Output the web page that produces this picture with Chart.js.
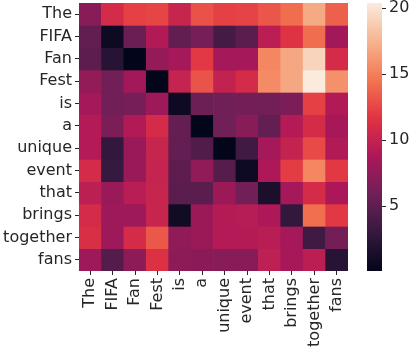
<!DOCTYPE html>
<html>
<head>
<meta charset="utf-8">
<script src="https://cdn.jsdelivr.net/npm/chart.js@4.4.1/dist/chart.umd.min.js"></script>
<style>
  html, body { margin: 0; padding: 0; background: #ffffff; }
  canvas { display: block; }
</style>
</head>
<body>
<canvas id="heat" width="409" height="349"></canvas>
<script>
// Tokens of the sentence (rows = queries, columns = keys)
const tokens = ['The', 'FIFA', 'Fan', 'Fest', 'is', 'a', 'unique', 'event', 'that', 'brings', 'together', 'fans'];

// Attention scores, one row per token
const rowThe      = [7.0, 10.9, 12.3, 12.5, 10.2, 13.0, 12.3, 12.4, 13.2, 14.2, 17.0, 13.7];
const rowFIFA     = [5.2, 0.8, 5.6, 9.0, 5.2, 6.2, 3.8, 4.8, 9.5, 11.6, 14.2, 8.3];
const rowFan      = [5.0, 2.2, 0.1, 7.6, 8.4, 11.9, 8.4, 8.4, 15.4, 16.9, 19.2, 11.0];
const rowFest     = [7.5, 6.0, 8.3, 0.1, 10.1, 13.1, 9.9, 10.9, 15.6, 16.9, 20.4, 15.8];
const rowIs       = [8.4, 6.0, 6.2, 8.1, 0.8, 5.7, 5.9, 6.1, 6.0, 6.5, 12.3, 9.1];
const rowA        = [9.2, 6.4, 9.1, 11.0, 5.3, 0.1, 5.9, 7.0, 5.3, 9.2, 10.9, 8.5];
const rowUnique   = [9.2, 2.8, 7.8, 10.2, 5.3, 4.4, 0.1, 3.6, 8.4, 10.0, 12.7, 9.0];
const rowEvent    = [10.9, 3.0, 7.9, 10.1, 5.0, 7.4, 4.6, 0.8, 8.9, 12.1, 15.4, 11.9];
const rowThat     = [9.6, 7.9, 9.4, 10.2, 4.8, 4.8, 8.0, 6.0, 1.5, 8.4, 10.9, 8.7];
const rowBrings   = [11.0, 8.1, 8.1, 10.2, 0.9, 8.0, 9.2, 9.3, 8.9, 2.8, 14.3, 11.9];
const rowTogether = [11.2, 8.1, 11.0, 13.3, 7.4, 8.0, 9.2, 9.2, 9.4, 8.4, 3.6, 6.1];
const rowFans     = [8.1, 4.5, 7.3, 11.4, 7.3, 7.2, 7.0, 7.0, 9.7, 8.5, 9.5, 2.2];

const scores = [rowThe, rowFIFA, rowFan, rowFest, rowIs, rowA, rowUnique,
                rowEvent, rowThat, rowBrings, rowTogether, rowFans];

// Colour bar tick labels
const colorbarTicks = [5, 10, 15, 20];

const vmin = Math.min(...scores.flat());
const vmax = Math.max(...scores.flat());

// "rocket" style colormap, piecewise-linear between anchor colours
const rocketStops = [
  [3, 5, 26], [53, 25, 62], [112, 31, 87], [173, 23, 89],
  [225, 51, 66], [243, 118, 81], [246, 180, 143], [250, 235, 221]
];
function rocket(t) {
  t = Math.max(0, Math.min(1, t));
  const p = t * (rocketStops.length - 1);
  const i = Math.min(rocketStops.length - 2, Math.floor(p));
  const f = p - i;
  const a = rocketStops[i], b = rocketStops[i + 1];
  const c = a.map((v, k) => Math.round(v + (b[k] - v) * f));
  return `rgb(${c[0]},${c[1]},${c[2]})`;
}
const colorFor = v => rocket((v - vmin) / (vmax - vmin));

const textColor = '#262626';
const font = { family: 'DejaVu Sans', size: 16 };

// Fixed axis sizes without the extra label overhang padding
function fixSize(prop, size) {
  return s => {
    s[prop] = size;
    s.paddingTop = 0; s.paddingBottom = 0;
    s.paddingLeft = 0; s.paddingRight = 0;
  };
}

// Draws the colour bar to the left of the colour-bar axis
const colorbarPlugin = {
  id: 'colorbar',
  afterDraw(chart) {
    const s = chart.scales.cb;
    const ctx = chart.ctx;
    const x = s.left - 15;
    const top = Math.floor(s.top), bottom = Math.ceil(s.bottom);
    ctx.save();
    for (let y = top; y < bottom; y++) {
      const y0 = Math.max(y, s.top), y1 = Math.min(y + 1, s.bottom);
      const v = s.getValueForPixel((y0 + y1) / 2);
      ctx.fillStyle = rocket((v - vmin) / (vmax - vmin));
      ctx.fillRect(x, y0, 15, y1 - y0);
    }
    ctx.restore();
  }
};

new Chart(document.getElementById('heat'), {
  type: 'bar',
  data: {
    labels: tokens,
    datasets: scores.map((row, r) => ({
      label: tokens[r],
      data: row.map(() => 1),
      backgroundColor: row.map(colorFor),
      borderWidth: 0,
      barPercentage: 1,
      categoryPercentage: 1
    }))
  },
  options: {
    responsive: false,
    animation: false,
    layout: { padding: { top: 3, left: 0, right: 0, bottom: 0 } },
    plugins: { legend: { display: false }, tooltip: { enabled: false } },
    scales: {
      x: {
        type: 'category',
        stacked: true,
        offset: true,
        grid: { offset: false, drawOnChartArea: false, tickLength: 4, color: textColor },
        border: { display: false },
        ticks: { minRotation: 90, maxRotation: 90, autoSkip: false, font, color: textColor, padding: 3 },
        afterFit: fixSize('height', 78)
      },
      y: {
        type: 'linear',
        stacked: true,
        reverse: true,
        min: 0,
        max: tokens.length,
        afterBuildTicks: s => { s.ticks = tokens.map((_, i) => ({ value: i + 0.5 })); },
        grid: { drawOnChartArea: false, tickLength: 4, color: textColor },
        border: { display: false },
        ticks: { autoSkip: false, font, color: textColor, padding: 3,
                 callback: (v, i) => tokens[i] },
        afterFit: fixSize('width', 79)
      },
      gap: {
        type: 'linear',
        position: 'right',
        weight: 0,
        grid: { display: false },
        border: { display: false },
        ticks: { display: false },
        afterFit: fixSize('width', 34)
      },
      cb: {
        type: 'linear',
        position: 'right',
        weight: 1,
        min: vmin,
        max: vmax,
        afterBuildTicks: s => { s.ticks = colorbarTicks.map(v => ({ value: v })); },
        grid: { drawOnChartArea: false, tickLength: 4, color: textColor },
        border: { display: false },
        ticks: { font, color: textColor, padding: 3, callback: v => String(v) },
        afterFit: fixSize('width', 27)
      }
    }
  },
  plugins: [colorbarPlugin]
});
</script>
</body>
</html>
